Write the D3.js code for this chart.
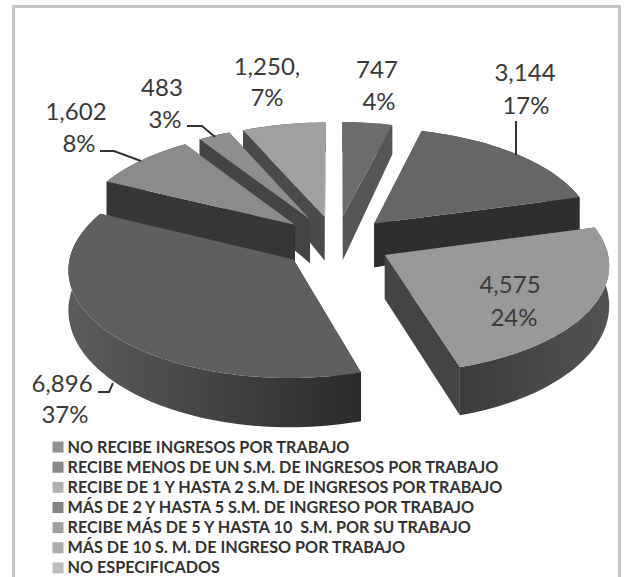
<!DOCTYPE html>
<html><head><meta charset="utf-8">
<script src="https://cdn.jsdelivr.net/npm/d3@7/dist/d3.min.js"></script>
<style>html,body{margin:0;padding:0;background:#fff;overflow:hidden}svg{display:block}text{font-family:Lato,"Open Sans",sans-serif}</style>
</head><body><svg id="c" width="624" height="577"></svg>
<script>
const categories = ["NO RECIBE INGRESOS POR TRABAJO","RECIBE MENOS DE UN S.M. DE INGRESOS POR TRABAJO","RECIBE DE 1 Y HASTA 2 S.M. DE INGRESOS POR TRABAJO","MÁS DE 2 Y HASTA 5 S.M. DE INGRESO POR TRABAJO","RECIBE MÁS DE 5 Y HASTA 10  S.M. POR SU TRABAJO","MÁS DE 10 S. M. DE INGRESO POR TRABAJO","NO ESPECIFICADOS"];
const values = [747,3144,4575,6896,1602,483,1250];
const percentLabels = ["4%","17%","24%","37%","8%","3%","7%"];
const valueLabels = ["747","3,144","4,575","6,896","1,602","483","1,250,"];

// styling
const topColors = ["#6c6c6c","#666666","#999999","#5f5f5f","#8b8b8b","#8e8e8e","#a0a0a0"];
const wallColors = ["#565656","#2e2e2e","#444444","#3a3a3a","#363636","#444444","#4a4a4a"];
const rimStops = [["#555","#555"],["#2e2e2e","#2e2e2e"],["#3c3c3c","#525252"],["#5c5c5c","#2a2a2a"],["#363636","#363636"],["#444","#444"],["#4a4a4a","#4a4a4a"]];
const swatchColors = ["#8f8f8f","#888888","#b0b0b0","#848484","#a0a0a0","#adadad","#bdbdbd"];
const labelLayout = [
 {x:[377,379],y:[78,110]},{x:[525,526],y:[81,114]},{x:[510,514],y:[293,326]},
 {x:[62,65],y:[392,423]},{x:[76,79],y:[120,152]},{x:[162,165],y:[96,128]},{x:[267,267],y:[75,106]}];
const leaders = [
 [[516,121],[516,155]],
 [[187,126],[202,126],[215,137]],
 [[100,151],[114,151],[141,161]],
 [[98,392],[109,392],[113,383]]];

const svg = d3.select("#c");
const defs = svg.append("defs");
svg.append("rect").attr("x",13.5).attr("y",6.5).attr("width",606).attr("height",600)
  .attr("fill","#fff").attr("stroke","#c4c4c4").attr("stroke-width",3);

// projection of the tilted pie disc
const CX=336, CY=242, RX=221, RY=105.8, K=0.082, EXPLODE=0.25;
const sx = d3.scaleLinear().domain([-1,1]).range([CX-RX,CX+RX]);
const sy = d3.scaleLinear().domain([-1,1]).range([CY-RY,CY+RY]);
const persp = f => 1/(1-K*f);
const project = (X,F) => { const s=persp(F); return [sx(X*s), sy(F*s), s]; };
const lower = (p,apex) => [p[0], p[1] + (apex ? 44 : 38*Math.pow(p[2],2.6))];
const line = d3.line();

const arcs = d3.pie().sort(null).value(d=>d)(values);
const slices = arcs.map((a,i)=>{
  const m=(a.startAngle+a.endAngle)/2;
  const ax=EXPLODE*Math.sin(m), af=-EXPLODE*Math.cos(m);
  const n=Math.max(4,Math.ceil((a.endAngle-a.startAngle)/0.03));
  const rim=d3.range(n+1).map(j=>{
    const t=a.startAngle+(a.endAngle-a.startAngle)*j/n;
    return project(ax+Math.sin(t), af-Math.cos(t));
  });
  return {i,apex:project(ax,af),rim,depth:af-Math.cos(m)};
});

const g = svg.append("g");
slices.slice().sort((p,q)=>p.depth-q.depth).forEach(s=>{
  const gid="rim"+s.i;
  const lg=defs.append("linearGradient").attr("id",gid).attr("gradientUnits","userSpaceOnUse")
    .attr("x1",d3.min(s.rim,p=>p[0])).attr("x2",d3.max(s.rim,p=>p[0])).attr("y1",0).attr("y2",0);
  lg.append("stop").attr("offset",0).attr("stop-color",rimStops[s.i][0]);
  lg.append("stop").attr("offset",1).attr("stop-color",rimStops[s.i][1]);
  const first=s.rim[0], last=s.rim[s.rim.length-1];
  const wall=(p)=>[s.apex,p,lower(p),lower(s.apex,true)].map(q=>q.slice(0,2));
  const walls=[first,last].sort((a,b)=>a[1]-b[1]);
  walls.forEach(p=>g.append("path").attr("d",line(wall(p))+"Z").attr("fill",wallColors[s.i]));
  const rimPoly=s.rim.map(p=>p.slice(0,2)).concat(s.rim.map(p=>lower(p)).reverse());
  g.append("path").attr("d",line(rimPoly)+"Z").attr("fill",`url(#${gid})`);
  const face=[s.apex.slice(0,2)].concat(s.rim.map(p=>p.slice(0,2)));
  g.append("path").attr("d",line(face)+"Z").attr("fill",topColors[s.i]);
});

// leaders
leaders.forEach(l=>svg.append("path").attr("d",line(l)).attr("fill","none").attr("stroke","#333").attr("stroke-width",2));

// data labels
values.forEach((v,i)=>{
  const L=labelLayout[i];
  [valueLabels[i],percentLabels[i]].forEach((t,j)=>{
    svg.append("text").attr("x",L.x[j]).attr("y",L.y[j]).attr("text-anchor","middle")
      .attr("font-size",24).attr("fill","#3a3a3a").text(t);
  });
});

// legend
const ly = d3.scaleBand().domain(categories).range([437,578]);
categories.forEach((c,i)=>{
  const y=ly(c)+ly.bandwidth()/2;
  svg.append("rect").attr("x",52.5).attr("y",y-5.5).attr("width",11).attr("height",11).attr("fill",swatchColors[i]);
  svg.append("text").attr("x",67.5).attr("y",y+5.5).attr("font-size",16.2).attr("font-weight",700)
    .attr("fill","#333").attr("xml:space","preserve").style("white-space","pre").text(c);
});
</script></body></html>
